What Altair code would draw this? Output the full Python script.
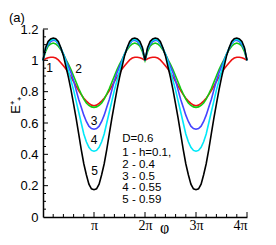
import altair as alt
import pandas as pd

# phi in units of pi, half period [0, pi] (curves are symmetric about pi, period 2pi)
phi_half = [0.00, 0.05, 0.10, 0.15, 0.20, 0.25, 0.30, 0.35, 0.40, 0.45, 0.50,
            0.55, 0.60, 0.65, 0.70, 0.75, 0.80, 0.85, 0.90, 0.95, 1.00]

e1_red = [1.000, 1.010, 1.017, 1.020, 1.020, 1.015, 1.003, 0.985, 0.965, 0.945, 0.920,
          0.893, 0.865, 0.835, 0.807, 0.781, 0.758, 0.740, 0.725, 0.714, 0.710]
e2_green = [1.000, 1.055, 1.090, 1.105, 1.110, 1.105, 1.090, 1.068, 1.040, 1.005, 0.975,
            0.940, 0.900, 0.860, 0.820, 0.785, 0.752, 0.728, 0.712, 0.703, 0.700]
e3_blue = [1.000, 1.070, 1.100, 1.120, 1.128, 1.125, 1.105, 1.075, 1.040, 1.000, 0.960,
           0.920, 0.870, 0.810, 0.750, 0.700, 0.650, 0.610, 0.580, 0.565, 0.560]
e4_cyan = [1.000, 1.075, 1.110, 1.128, 1.135, 1.130, 1.110, 1.080, 1.040, 0.990, 0.930,
           0.870, 0.810, 0.740, 0.670, 0.600, 0.530, 0.480, 0.445, 0.425, 0.420]
e5_black = [1.000, 1.080, 1.120, 1.137, 1.142, 1.138, 1.120, 1.080, 1.030, 0.960, 0.890,
            0.810, 0.720, 0.630, 0.530, 0.430, 0.340, 0.270, 0.210, 0.180, 0.174]

curve_ids = ["1", "2", "3", "4", "5"]
curve_colors = ["#ee1111", "#11cc11", "#4444ff", "#00e8f8", "#000000"]
h_values = ["h=0.1,", "0.4", "0.5", "0.55", "0.59"]
d_label = "D=0.6"

x_major = [1, 2, 3, 4]
y_major = [0, 0.2, 0.4, 0.6, 0.8, 1.0, 1.2]

series = [e1_red, e2_green, e3_blue, e4_cyan, e5_black]

rows = []
for cid, half in zip(curve_ids, series):
    period = half + half[-2::-1]          # 0 .. 2pi (mirror about pi)
    full = period + period[1:]            # 0 .. 4pi
    phis = [p for p in phi_half] + [2 - p for p in phi_half[-2::-1]]
    phis_full = phis + [2 + p for p in phis[1:]]
    for p, e in zip(phis_full, full):
        rows.append({"phi": p, "E": e, "curve": cid})
df = pd.DataFrame(rows)

W, H = 204, 188
xscale = alt.Scale(domain=[0, 4], nice=False, zero=False)
yscale = alt.Scale(domain=[0, 1.2], nice=False, zero=False)

x_axis = alt.Axis(values=x_major, ticks=False, grid=False,
                  labelExpr="datum.value == 1 ? 'π' : datum.value + 'π'",
                  labelFont="Liberation Serif", labelFontSize=14,
                  labelPadding=1, labelColor="black",
                  domainColor="black", domainWidth=1.5,
                  title="φ", titleFont="Liberation Serif", titleFontSize=16,
                  titleFontWeight="normal", titleX=121, titleY=2,
                  titleBaseline="top", titleAlign="center", titleColor="black")
y_axis = alt.Axis(values=y_major, format="~g", ticks=False, grid=False,
                  labelFont="Liberation Sans", labelFontSize=13,
                  labelPadding=5, labelColor="black",
                  domainColor="black", domainWidth=1.5,
                  title="E⁺₊", titleFont="Liberation Sans", titleFontSize=13,
                  titleFontWeight="normal", titleAngle=270, titleX=-21, titleY=76,
                  titleAlign="center", titleBaseline="bottom", titleColor="black")

lines = alt.Chart(df).mark_line(strokeWidth=1.6, clip=False).encode(
    x=alt.X("phi:Q", scale=xscale, axis=x_axis),
    y=alt.Y("E:Q", scale=yscale, axis=y_axis),
    color=alt.Color("curve:N", scale=alt.Scale(domain=curve_ids, range=curve_colors), legend=None),
    order=alt.Order("phi:Q"),
)

xt_major = pd.DataFrame({"t": x_major})
xt_minor = pd.DataFrame({"t": [i / 5 for i in range(1, 20) if i % 5]})
yt_major = pd.DataFrame({"t": y_major[1:]})
yt_minor = pd.DataFrame({"t": [i / 20 for i in range(1, 24) if i % 4]})

xtick_major = alt.Chart(xt_major).mark_rule(color="black", strokeWidth=1).encode(
    x=alt.X("t:Q", scale=xscale, axis=x_axis), y=alt.value(H), y2=alt.value(H - 5))
xtick_minor = alt.Chart(xt_minor).mark_rule(color="black", strokeWidth=1).encode(
    x=alt.X("t:Q", scale=xscale, axis=x_axis), y=alt.value(H), y2=alt.value(H - 3))
ytick_major = alt.Chart(yt_major).mark_rule(color="black", strokeWidth=1).encode(
    y=alt.Y("t:Q", scale=yscale, axis=y_axis), x=alt.value(0), x2=alt.value(5))
ytick_minor = alt.Chart(yt_minor).mark_rule(color="black", strokeWidth=1).encode(
    y=alt.Y("t:Q", scale=yscale, axis=y_axis), x=alt.value(0), x2=alt.value(3))

legend_lines = [d_label] + [f"{c} - {h}" for c, h in zip(curve_ids, h_values)]
legend_df = pd.DataFrame({
    "x": [1.555] * 6,
    "y": [0.50, 0.41, 0.334, 0.257, 0.187, 0.11],
    "label": legend_lines,
})
legend_text = alt.Chart(legend_df).mark_text(
    align="left", baseline="middle", font="Liberation Sans", fontSize=11.5, color="black"
).encode(x=alt.X("x:Q", scale=xscale, axis=x_axis), y=alt.Y("y:Q", scale=yscale, axis=y_axis),
         text="label:N")

curve_lab_df = pd.DataFrame({
    "x": [0.13, 0.70, 1.0, 1.0, 1.01],
    "y": [0.951, 0.945, 0.61, 0.489, 0.291],
    "label": curve_ids,
})
curve_text = alt.Chart(curve_lab_df).mark_text(
    align="center", baseline="middle", font="Liberation Sans", fontSize=12, color="black"
).encode(x=alt.X("x:Q", scale=xscale, axis=x_axis), y=alt.Y("y:Q", scale=yscale, axis=y_axis),
         text="label:N")

chart = alt.layer(
    lines, xtick_major, xtick_minor, ytick_major, ytick_minor, legend_text, curve_text
).properties(
    width=W, height=H,
    autosize=alt.AutoSizeParams(type="none"),
    padding={"left": 35, "top": 21, "right": 12, "bottom": 17},
    title=alt.TitleParams("(a)", anchor="start", frame="group", dx=-34, offset=0, dy=2,
                          fontSize=13, fontWeight="normal", font="Liberation Sans", color="black"),
).configure_view(stroke=None)

chart.save("out.html", embed_options={"renderer": "svg", "actions": False})
